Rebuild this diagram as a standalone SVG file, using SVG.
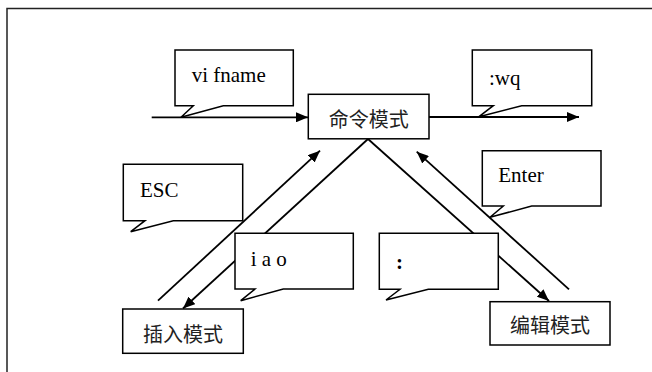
<svg xmlns="http://www.w3.org/2000/svg" width="652" height="372" viewBox="0 0 652 372">
<style>
.box{fill:#fff;stroke:#000;stroke-width:1.5}
.co{fill:#fff;stroke:#000;stroke-width:1.5;stroke-linejoin:miter}
.ln{fill:none;stroke:#000;stroke-width:1.8}
.lat{font-family:"Liberation Serif","Times New Roman",serif;font-size:21px;fill:#000}
.cjk{font-family:"Noto Sans CJK SC","Noto Sans",sans-serif;font-size:20px;fill:#222;text-anchor:middle}
</style>
<defs>
<marker id="ah" markerWidth="12" markerHeight="10" refX="12" refY="5" orient="auto" markerUnits="userSpaceOnUse"><path d="M0,0 L12,5 L0,10 z" fill="#000"/></marker>
</defs>
<rect x="0" y="0" width="652" height="372" fill="#fff"/>
<rect x="7" y="8.5" width="700" height="420" fill="none" stroke="#222" stroke-width="1.5"/>
<g id="connectors">
<path class="ln" d="M151.7,117.3 L308,117.3" marker-end="url(#ah)"/>
<path class="ln" d="M429,117 L579,117" marker-end="url(#ah)"/>
<path class="ln" d="M368,139 L183,308.5" marker-end="url(#ah)"/>
<path class="ln" d="M158,300.7 L320,150.7" marker-end="url(#ah)"/>
<path class="ln" d="M368,139 L549,301" marker-end="url(#ah)"/>
<path class="ln" d="M569,289.3 L416.7,151.7" marker-end="url(#ah)"/>
</g>
<g id="cmd"><rect class="box" x="308.3" y="94.3" width="120.7" height="44.5"/><text class="cjk" x="368.7" y="127">命令模式</text></g>
<g id="insert"><rect class="box" x="122.7" y="309" width="120.6" height="44.3"/><text class="cjk" x="183" y="341.5">插入模式</text></g>
<g id="edit"><rect class="box" x="490" y="301.7" width="120" height="43.3"/><text class="cjk" x="550" y="332.5">编辑模式</text></g>
<g id="c-vi"><path class="co" d="M175,50 H293.3 V105.7 H223.3 L181,117.3 L193.3,105.7 H175 Z"/><text class="lat" x="191.7" y="82.3">vi fname</text></g>
<g id="c-wq"><path class="co" d="M472.3,50 H591.7 V105.7 H521.7 L479,116.7 L493.3,105.7 H472.3 Z"/><text class="lat" x="489" y="85">:wq</text></g>
<g id="c-esc"><path class="co" d="M123.3,164.3 H242.7 V220.7 H173.3 L130.7,231.7 L145,220.7 H123.3 Z"/><text class="lat" x="140" y="196.7">ESC</text></g>
<g id="c-iao"><path class="co" d="M235,233.3 H353.3 V289 H283.3 L240.7,300.7 L255,289 H235 Z"/><text class="lat" x="250.7" y="265.7">i a o</text></g>
<g id="c-colon"><path class="co" d="M379.3,233.3 H498.3 V289.3 H428.3 L386,300 L400,289.3 H379.3 Z"/><text class="lat" x="396" y="269" font-weight="bold">:</text></g>
<g id="c-enter"><path class="co" d="M482.3,150.7 H601 V206 H531.7 L490,217.3 L503.3,206 H482.3 Z"/><text class="lat" x="498.3" y="182.3">Enter</text></g>
</svg>
